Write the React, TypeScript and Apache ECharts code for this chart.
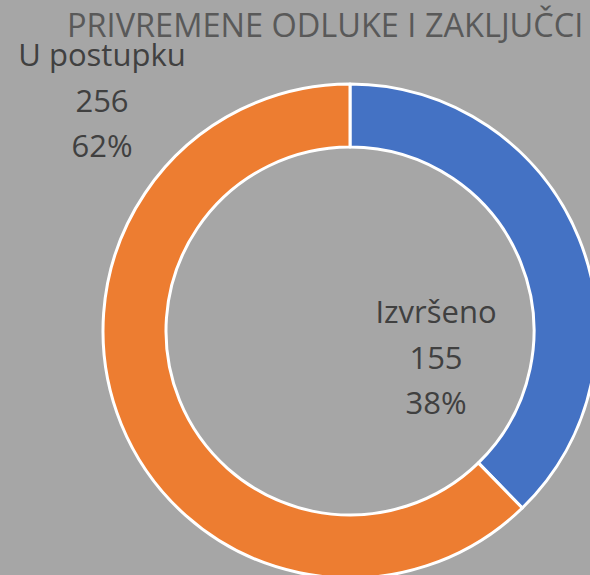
import React, { useEffect, useRef } from "react";
import * as echarts from "echarts";

const titleText = "PRIVREMENE ODLUKE I ZAKLJUČCI";
const categories = ["Izvršeno", "U postupku"];
const values = [155, 256];
const colors = ["#4472C4", "#ED7D31"];
const labelSpots = [
  [436, 356],
  [102, 99],
];

export default function App() {
  const ref = useRef<HTMLDivElement>(null);
  useEffect(() => {
    document.body.style.margin = "0";
    const chart = echarts.init(ref.current!, undefined, { renderer: "svg" });
    const font = "Open Sans";
    const base = { fontFamily: font, fontSize: 31, color: "#404040", align: "center" };
    chart.setOption({
      animation: false,
      backgroundColor: "#A6A6A6",
      title: {
        text: titleText,
        left: 67,
        top: 13.5,
        padding: 0,
        textStyle: {
          fontFamily: font,
          fontSize: 32.5,
          lineHeight: 22,
          fontWeight: "normal",
          color: "#595959",
        },
      },
      series: [
        {
          type: "pie",
          center: [350, 331],
          radius: [184, 247],
          startAngle: 90,
          clockwise: true,
          percentPrecision: 0,
          avoidLabelOverlap: false,
          itemStyle: { borderColor: "#FFFFFF", borderWidth: 3 },
          label: {
            show: true,
            position: "outside",
            formatter: "{n|{b}}\n{v|{c}}\n{p|{d}%}",
            ...base,
            rich: {
              n: { ...base, lineHeight: 36 },
              v: { ...base, lineHeight: 56 },
              p: { ...base, lineHeight: 34 },
            },
          },
          labelLine: { show: false },
          labelLayout: (p: any) => ({
            x: labelSpots[p.dataIndex][0],
            y: labelSpots[p.dataIndex][1],
            align: "center",
            verticalAlign: "middle",
          }),
          data: categories.map((c, i) => ({
            name: c,
            value: values[i],
            itemStyle: { color: colors[i] },
          })),
        },
      ],
    });
    return () => chart.dispose();
  }, []);
  return (
    <div
      ref={ref}
      style={{ position: "absolute", left: 0, top: 0, width: 590, height: 575 }}
    />
  );
}
